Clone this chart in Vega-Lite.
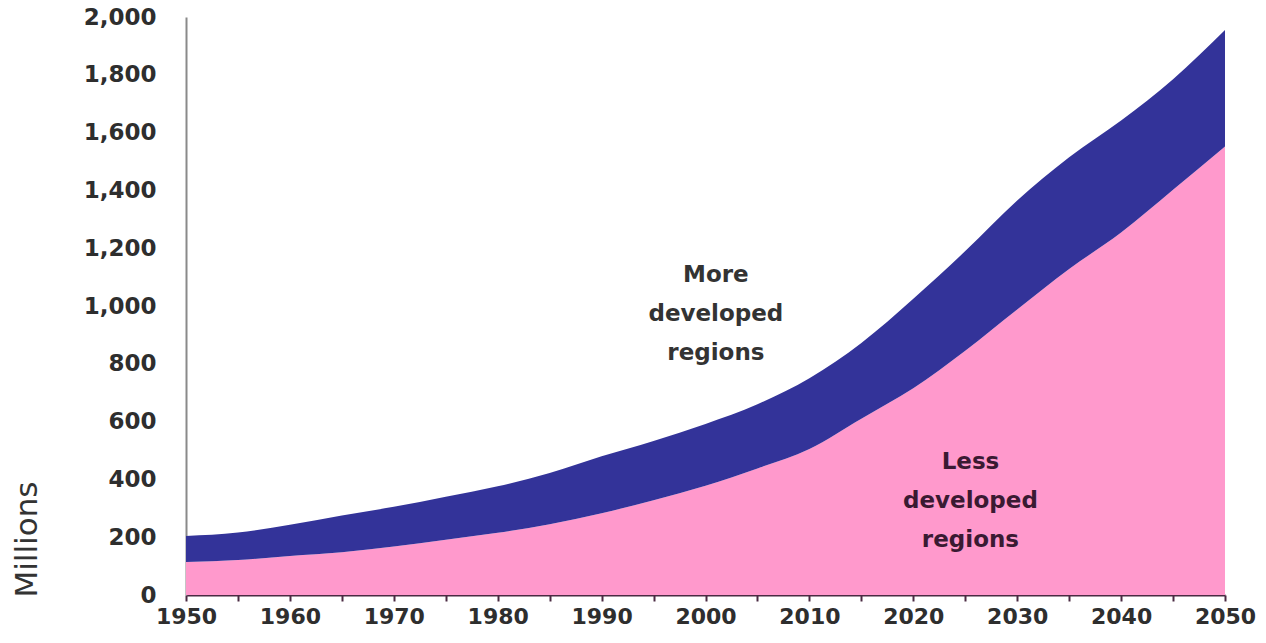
{
  "$schema": "https://vega.github.io/schema/vega-lite/v6.json",
  "width": 1039,
  "height": 578,
  "autosize": {"type": "none"},
  "padding": {"left": 186, "top": 17, "right": 41, "bottom": 48},
  "background": "white",
  "config": {"view": {"stroke": null}},
  "datasets": {
    "pop": [
      {"year": 1950, "region": "Less developed regions", "value": 114},
      {"year": 1955, "region": "Less developed regions", "value": 121},
      {"year": 1960, "region": "Less developed regions", "value": 135},
      {"year": 1965, "region": "Less developed regions", "value": 148},
      {"year": 1970, "region": "Less developed regions", "value": 168},
      {"year": 1975, "region": "Less developed regions", "value": 191},
      {"year": 1980, "region": "Less developed regions", "value": 215},
      {"year": 1985, "region": "Less developed regions", "value": 245},
      {"year": 1990, "region": "Less developed regions", "value": 283},
      {"year": 1995, "region": "Less developed regions", "value": 328},
      {"year": 2000, "region": "Less developed regions", "value": 378},
      {"year": 2005, "region": "Less developed regions", "value": 438},
      {"year": 2010, "region": "Less developed regions", "value": 505},
      {"year": 2015, "region": "Less developed regions", "value": 610},
      {"year": 2020, "region": "Less developed regions", "value": 715},
      {"year": 2025, "region": "Less developed regions", "value": 845},
      {"year": 2030, "region": "Less developed regions", "value": 988},
      {"year": 2035, "region": "Less developed regions", "value": 1128},
      {"year": 2040, "region": "Less developed regions", "value": 1254},
      {"year": 2045, "region": "Less developed regions", "value": 1402},
      {"year": 2050, "region": "Less developed regions", "value": 1552},
      {"year": 1950, "region": "More developed regions", "value": 90},
      {"year": 1955, "region": "More developed regions", "value": 95},
      {"year": 1960, "region": "More developed regions", "value": 108},
      {"year": 1965, "region": "More developed regions", "value": 127},
      {"year": 1970, "region": "More developed regions", "value": 137},
      {"year": 1975, "region": "More developed regions", "value": 149},
      {"year": 1980, "region": "More developed regions", "value": 161},
      {"year": 1985, "region": "More developed regions", "value": 177},
      {"year": 1990, "region": "More developed regions", "value": 197},
      {"year": 1995, "region": "More developed regions", "value": 205},
      {"year": 2000, "region": "More developed regions", "value": 214},
      {"year": 2005, "region": "More developed regions", "value": 222},
      {"year": 2010, "region": "More developed regions", "value": 245},
      {"year": 2015, "region": "More developed regions", "value": 262},
      {"year": 2020, "region": "More developed regions", "value": 310},
      {"year": 2025, "region": "More developed regions", "value": 345},
      {"year": 2030, "region": "More developed regions", "value": 377},
      {"year": 2035, "region": "More developed regions", "value": 387},
      {"year": 2040, "region": "More developed regions", "value": 388},
      {"year": 2045, "region": "More developed regions", "value": 383},
      {"year": 2050, "region": "More developed regions", "value": 403}
    ],
    "labels": [
      {"year": 2001, "value": 1107, "label": "More\ndeveloped\nregions", "kind": "more"},
      {"year": 2025.5, "value": 460, "label": "Less\ndeveloped\nregions", "kind": "less"}
    ]
  },
  "layer": [
    {
      "data": {"name": "pop"},
      "mark": {"type": "area", "interpolate": "monotone"},
      "encoding": {
        "x": {
          "field": "year",
          "type": "quantitative",
          "scale": {"domain": [1950, 2050], "nice": false, "zero": false},
          "axis": {
            "title": null,
            "values": [1950,1955,1960,1965,1970,1975,1980,1985,1990,1995,2000,2005,2010,2015,2020,2025,2030,2035,2040,2045,2050],
            "format": "d",
            "labelExpr": "datum.value % 10 == 0 ? datum.label : ''",
            "labelFont": "DejaVu Sans",
            "labelFontWeight": "bold",
            "labelFontSize": 22,
            "labelColor": "#2e2e2e",
            "labelPadding": 5,
            "labelFlush": false,
            "labelOverlap": false,
            "domainColor": "#4a2a42",
            "domainWidth": 2,
            "tickColor": "#4a2a42",
            "tickWidth": 2,
            "tickSize": 6,
            "grid": false
          }
        },
        "y": {
          "field": "value",
          "type": "quantitative",
          "stack": "zero",
          "scale": {"domain": [0, 2000], "nice": false},
          "axis": {
            "title": "Millions",
            "titleFont": "DejaVu Sans",
            "titleFontWeight": "normal",
            "titleFontSize": 31,
            "titleColor": "#333333",
            "titleAngle": 270,
            "titleX": -159,
            "titleY": 580,
            "titleAlign": "left",
            "titleBaseline": "middle",
            "values": [0,200,400,600,800,1000,1200,1400,1600,1800,2000],
            "format": ",d",
            "labelFont": "DejaVu Sans",
            "labelFontWeight": "bold",
            "labelFontSize": 23,
            "labelColor": "#2e2e2e",
            "labelPadding": 30,
            "ticks": false,
            "domainColor": "#8a8a8a",
            "domainWidth": 2,
            "grid": false
          }
        },
        "color": {
          "field": "region",
          "type": "nominal",
          "scale": {
            "domain": ["Less developed regions", "More developed regions"],
            "range": ["#FF99CC", "#333399"]
          },
          "legend": null
        },
        "order": {"field": "region", "sort": "ascending"}
      }
    },
    {
      "data": {"name": "labels"},
      "mark": {
        "type": "text",
        "font": "DejaVu Sans",
        "fontWeight": "bold",
        "fontSize": 23,
        "lineBreak": "\n",
        "lineHeight": 39,
        "align": "center",
        "baseline": "middle"
      },
      "encoding": {
        "x": {"field": "year", "type": "quantitative"},
        "y": {"field": "value", "type": "quantitative"},
        "text": {"field": "label"},
        "color": {
          "field": "kind",
          "type": "nominal",
          "scale": {"domain": ["more", "less"], "range": ["#333333", "#3a1a32"]},
          "legend": null
        }
      }
    }
  ],
  "resolve": {"scale": {"color": "independent"}}
}
